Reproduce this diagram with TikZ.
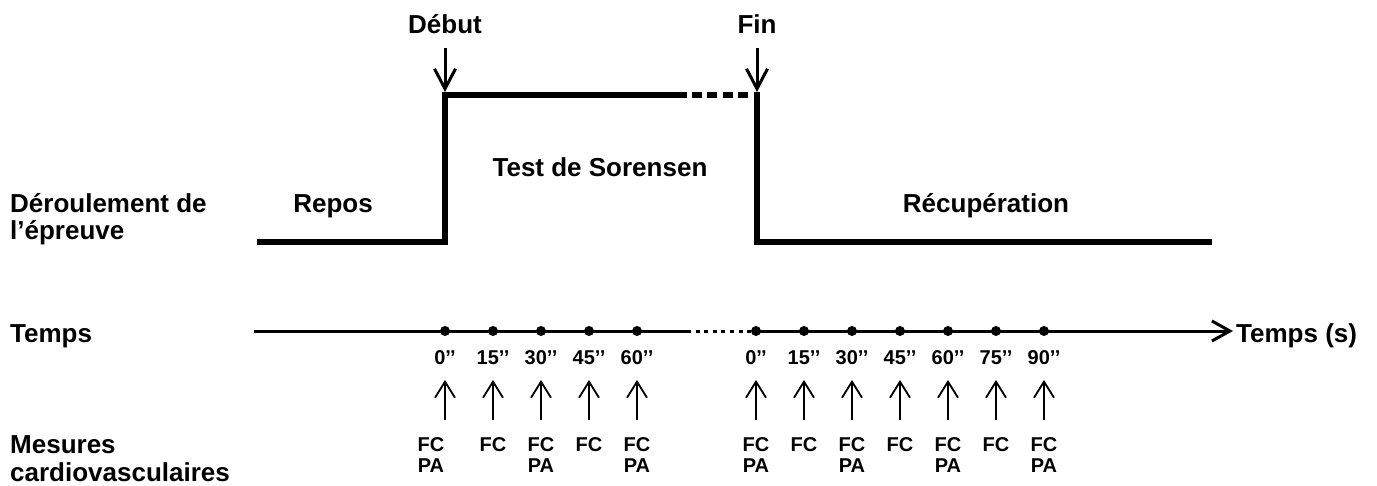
\documentclass[tikz,border=0pt]{standalone}
\usepackage{fontspec}
\setmainfont{Liberation Sans}
\usetikzlibrary{arrows.meta}
\begin{document}
\begin{tikzpicture}[x=1pt,y=-1pt,
  big/.style={font=\fontsize{26}{28}\selectfont\bfseries, inner sep=0pt},
  small/.style={font=\fontsize{20}{22}\selectfont\bfseries, inner sep=0pt},
  sig/.style={line width=5.5pt, line join=miter, line cap=butt},
  axisline/.style={line width=3pt},
  bigarrow/.style={line width=3pt, -{Straight Barb[length=20pt,width=21pt]}},
  measarrow/.style={line width=1.8pt, -{Straight Barb[length=16pt,width=20pt]}},
  tdot/.style={circle, fill=black, inner sep=0pt, minimum size=10pt}
]
\useasboundingbox (0,0) rectangle (1377,485);

% left labels
\node[big, anchor=base west] (der1) at (10,212) {Déroulement de};
\node[big, anchor=base west] (der2) at (10,239) {l’épreuve};
\node[big, anchor=base west] (temps) at (10,342) {Temps};
\node[big, anchor=base west] (mes1) at (10,453) {Mesures};
\node[big, anchor=base west] (mes2) at (10,481) {cardiovasculaires};

% phase labels
\node[big, anchor=base] (debut) at (445,33) {Début};
\node[big, anchor=base] (fin) at (757,33) {Fin};
\node[big, anchor=base] (test) at (600,176) {Test de Sorensen};
\node[big, anchor=base] (repos) at (333,212) {Repos};
\node[big, anchor=base] (recup) at (986,212) {Récupération};

% signal
\coordinate (s0) at (257,242);
\coordinate (s1) at (445,242);
\coordinate (s2) at (445,95);
\coordinate (s3) at (687,95);
\coordinate (s4) at (692,95);
\coordinate (s5) at (752,95);
\coordinate (s6) at (757,95);
\coordinate (s7) at (757,242);
\coordinate (s8) at (1212,242);
\draw[sig] (s0) -- (s1) -- (s2) -- (s3);
\draw[sig, dash pattern=on 10pt off 5.3pt] (s4) -- (s5);
\draw[sig] (s6) -- (s7) -- (s8);
\draw[sig, line cap=butt] (s6) ++(-2.75,0) -- ++(5.5,0);

% start / end arrows
\coordinate (da) at (445,48);
\coordinate (db) at (445,92);
\coordinate (fa) at (757,48);
\coordinate (fb) at (757,92);
\draw[bigarrow] (da) -- (db);
\draw[bigarrow] (fa) -- (fb);

% time axis
\coordinate (a0) at (254,331);
\coordinate (a1) at (687,331);
\coordinate (a2) at (752,331);
\coordinate (a3) at (756,331);
\coordinate (a4) at (1233,331);
\draw[axisline] (a0) -- (a1);
\draw[axisline, dash pattern=on 4pt off 4.6pt] (a1) -- (a2);
\draw[axisline, -{Straight Barb[length=18pt,width=20pt]}] (a3) -- (a4);
\node[big, anchor=base west] (temps2) at (1236,342) {Temps (s)};

% dots and labels
\foreach \x/\l [count=\i] in {445/0,493/15,541/30,589/45,637/60,756/0,804/15,852/30,900/45,948/60,996/75,1044/90} {
  \node[tdot] (d\i) at (\x,331) {};
  \node[small, anchor=base] (l\i) at (\x,364) {\l’’};
  \coordinate (ab\i) at (\x,420);
  \coordinate (at\i) at (\x,380);
  \draw[measarrow] (ab\i) -- (at\i);
}

% FC / PA
\foreach \x/\p [count=\i] in {431/1,493/0,541/1,589/0,637/1,756/1,804/0,852/1,900/0,948/1,996/0,1044/1} {
  \node[small, anchor=base] (fc\i) at (\x,451) {FC};
  \ifnum\p=1
    \node[small, anchor=base] (pa\i) at (\x,472) {PA};
  \fi
}
\end{tikzpicture}
\end{document}
